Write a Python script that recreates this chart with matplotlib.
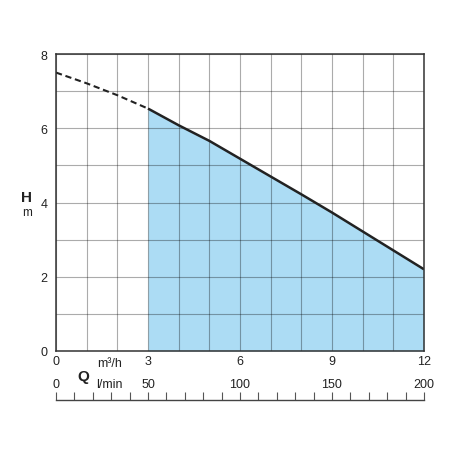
import matplotlib
matplotlib.use("Agg")
import matplotlib.pyplot as plt
import matplotlib.transforms as mtransforms
import numpy as np

plt.rcParams['font.family'] = ['Liberation Sans', 'DejaVu Sans']

# data
q_m3h = [0, 1, 2, 3, 4, 5, 6, 7, 8, 9, 10, 11, 12]
h_m = [7.5, 7.21, 6.89, 6.53, 6.08, 5.66, 5.18, 4.70, 4.22, 3.73, 3.22, 2.71, 2.2]
x_labels = ["0", "3", "6", "9", "12"]
x_label_pos = [0, 3, 6, 9, 12]
y_labels = ["0", "2", "4", "6", "8"]
y_label_pos = [0, 2, 4, 6, 8]
lpm_labels = [0, 50, 100, 150, 200]
lpm_minor = list(range(0, 201, 10))
op_start = 3  # start of operating range (m3/h)

fig = plt.figure(figsize=(4.52, 4.52), dpi=100)
ax = fig.add_axes([56/452, 1-352/452, 368/452, 297/452])

q = np.array(q_m3h, dtype=float)
h = np.array(h_m, dtype=float)
solid = q >= op_start
dashed = q <= op_start

ax.fill_between(q[solid], 0, h[solid], color='#acdcf4', lw=0, zorder=1)
ax.plot(q[dashed], h[dashed], color='#222222', lw=1.5, ls=(0, (3, 1.8)), zorder=4)
ax.plot(q[solid], h[solid], color='#222222', lw=1.8, zorder=4, solid_capstyle='butt')

ax.set_xlim(0, 12)
ax.set_ylim(0, 8)
ax.set_xticks(np.arange(0, 13, 1))
ax.set_yticks(np.arange(0, 9, 1))
ax.set_xticklabels([x_labels[x_label_pos.index(v)] if v in x_label_pos else "" for v in range(13)],
                   fontsize=9)
ax.set_yticklabels([y_labels[y_label_pos.index(v)] if v in y_label_pos else "" for v in range(9)],
                   fontsize=9)
ax.tick_params(length=0, pad=3, labelcolor='#222222')
ax.tick_params(axis='y', pad=6)
ax.grid(True, color='black', alpha=0.33, lw=0.8, zorder=2)
ax.set_axisbelow(False)
for s in ax.spines.values():
    s.set_color('#333333')
    s.set_linewidth(1.1)
    s.set_zorder(5)

# unit labels
ax.text(1.76, -0.31, "m³/h", fontsize=9, ha='center', va='center', color='#222222')
fig.text(27/452, 1-198/452, "H", fontsize=11, fontweight='bold', ha='center', va='center', color='#222222')
fig.text(27/452, 1-213/452, "m", fontsize=8.5, ha='center', va='center', color='#222222')
fig.text(83/452, 1-377/452, "Q", fontsize=11, fontweight='bold', ha='center', va='center', color='#222222')

# secondary l/min scale
ax2 = fig.add_axes([56/452, 1-401/452, 368/452, 0.001])
ax2.set_xlim(0, 200)
ax2.set_ylim(0, 1)
ax2.set_yticks([])
ax2.set_xticks(lpm_minor)
ax2.set_xticklabels([])
ax2.tick_params(axis='x', direction='in', length=6, width=0.8, color='#555555')
for k in ['top', 'left', 'right']:
    ax2.spines[k].set_visible(False)
ax2.spines['bottom'].set_color('#444444')
ax2.spines['bottom'].set_linewidth(1.0)
ax2.patch.set_visible(False)
tr = mtransforms.blended_transform_factory(ax2.transData, fig.transFigure)
for v in lpm_labels:
    ax2.text(v, 1-385/452, str(v), transform=tr, fontsize=9, ha='center', va='center', color='#222222')
ax2.text(29, 1-385/452, "l/min", transform=tr, fontsize=9, ha='center', va='center', color='#222222')

fig.savefig("out.png", dpi=100)
